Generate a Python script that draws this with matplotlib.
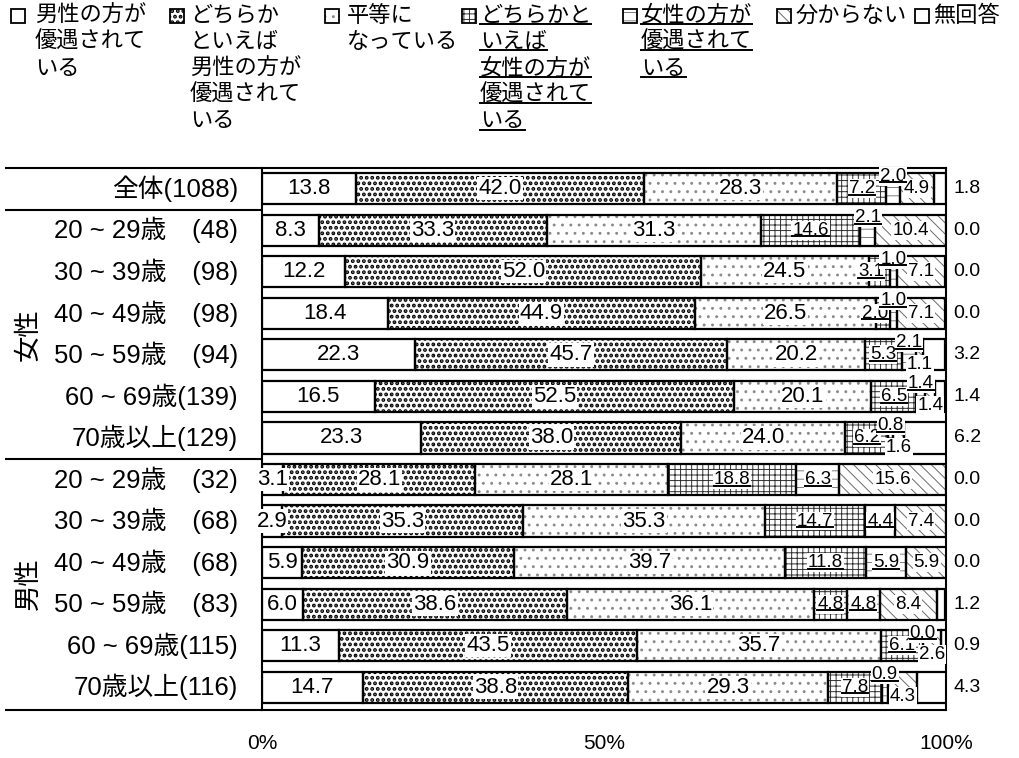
import matplotlib
matplotlib.use("Agg")
import matplotlib.pyplot as plt
from matplotlib.lines import Line2D
from matplotlib.patches import Rectangle
import numpy as np

W, H = 1019, 758
plt.rcParams['font.family'] = ['Liberation Sans', 'Noto Sans CJK JP']

# ---- data -------------------------------------------------------------
categories = [
    '全体(1088)',
    '20 ~ 29歳\u3000(48)', '30 ~ 39歳\u3000(98)', '40 ~ 49歳\u3000(98)',
    '50 ~ 59歳\u3000(94)', '60 ~ 69歳(139)', '70歳以上(129)',
    '20 ~ 29歳\u3000(32)', '30 ~ 39歳\u3000(68)', '40 ~ 49歳\u3000(68)',
    '50 ~ 59歳\u3000(83)', '60 ~ 69歳(115)', '70歳以上(116)',
]
groups = ['女性', '男性']

series_names = [
    '男性の方が\n優遇されて\nいる',
    'どちらか\nといえば\n男性の方が\n優遇されて\nいる',
    '平等に\nなっている',
    'どちらかと\nいえば\n女性の方が\n優遇されて\nいる',
    '女性の方が\n優遇されて\nいる',
    '分からない',
    '無回答',
]

male_favored   = [13.8, 8.3, 12.2, 18.4, 22.3, 16.5, 23.3, 3.1, 2.9, 5.9, 6.0, 11.3, 14.7]
rather_male    = [42.0, 33.3, 52.0, 44.9, 45.7, 52.5, 38.0, 28.1, 35.3, 30.9, 38.6, 43.5, 38.8]
equal          = [28.3, 31.3, 24.5, 26.5, 20.2, 20.1, 24.0, 28.1, 35.3, 39.7, 36.1, 35.7, 29.3]
rather_female  = [7.2, 14.6, 3.1, 2.0, 5.3, 6.5, 6.2, 18.8, 14.7, 11.8, 4.8, 6.1, 7.8]
female_favored = [2.0, 2.1, 1.0, 1.0, 2.1, 1.4, 0.8, 6.3, 4.4, 5.9, 4.8, 0.0, 0.9]
dont_know      = [4.9, 10.4, 7.1, 7.1, 1.1, 1.4, 1.6, 15.6, 7.4, 5.9, 8.4, 2.6, 4.3]
no_answer      = [1.8, 0.0, 0.0, 0.0, 3.2, 1.4, 6.2, 0.0, 0.0, 0.0, 1.2, 0.9, 4.3]

xtick_values = [0, 50, 100]
xtick_labels = ['0%', '50%', '100%']

series = [male_favored, rather_male, equal, rather_female,
          female_favored, dont_know, no_answer]

# ---- styling ----------------------------------------------------------
# (hatch, hatch colour, hatch line width) for each series
styles = [
    (None, None, 0.0),
    ('...', 'black', 1.9),
    ('..', '#8a8a8a', 0.9),
    ('+++', '#303030', 0.7),
    ('--', '#6a6a6a', 0.6),
    ('\\\\\\', '#6a6a6a', 0.7),
    (None, None, 0.0),
]
underlined = {3, 4}
bar_h = 0.75
edge_lw = 1.6

fig = plt.figure(figsize=(W / 100, H / 100), dpi=100)
ax = fig.add_axes([262 / W, 1 - 710 / H, 684 / W, 542 / H])
ax.set_xlim(0, 100)
ax.set_ylim(12.55, -0.5)

ypos = np.arange(len(categories))
vals = np.array(series, dtype=float)
lefts = np.vstack([np.zeros(vals.shape[1]), np.cumsum(vals, axis=0)[:-1]])


def draw_segments(j):
    w = vals[j]
    m = w > 0
    hatch, hcol, hlw = styles[j]
    if hatch:
        with plt.rc_context({'hatch.linewidth': hlw}):
            bars = ax.barh(ypos[m], w[m], left=lefts[j][m], height=bar_h,
                           color='white', edgecolor=hcol, linewidth=0,
                           hatch=hatch, zorder=1)
        for b in bars:
            if hasattr(b, 'set_hatch_linewidth'):
                b.set_hatch_linewidth(hlw)
    else:
        ax.barh(ypos[m], w[m], left=lefts[j][m], height=bar_h,
                color='white', linewidth=0, zorder=1)
    ax.barh(ypos[m], w[m], left=lefts[j][m], height=bar_h, fill=False,
            edgecolor='black', linewidth=edge_lw, zorder=2)


for j in range(len(series)):
    draw_segments(j)

# value labels inside the bars; tiny segments get their label nudged
to_underline = []
label_box = dict(boxstyle='square,pad=0.05', fc='white', ec='none')
for j in range(len(series) - 1):
    for i, v in enumerate(vals[j]):
        cx = lefts[j][i] + v / 2
        dy = 0.0
        if j == 4 and v < 3:
            dy = -0.3
        if j == 5 and v < 4.5:
            dy = 0.22
        if j == 3 and v < 4 and vals[4][i] < 3:
            cx -= 1.2
        fs = 16 if j < 3 else 13.5
        t = ax.text(cx, i + dy, f'{v:.1f}', ha='center', va='center',
                    fontsize=fs, zorder=5, bbox=label_box)
        if j in underlined:
            to_underline.append(t)

# no-answer values outside the frame
ytr = ax.get_yaxis_transform()
for i, v in enumerate(no_answer):
    ax.text(1.031, i, f'{v:.1f}', transform=ytr, ha='center', va='center',
            fontsize=14)

# row labels
for i, c in enumerate(categories):
    ax.text(-0.035, i, c, transform=ytr, ha='right', va='center', fontsize=18.5)

# group labels
ax.text(-0.342, 3.5, groups[0], transform=ytr, ha='center', va='center',
        rotation=90, fontsize=19)
ax.text(-0.342, 9.5, groups[1], transform=ytr, ha='center', va='center',
        rotation=90, fontsize=19)

# frame and separators
for s in ax.spines.values():
    s.set_linewidth(1.5)
    s.set_color('black')
x_left = (5 - 262) / 684
for yy in [-0.5, 0.5, 6.5, 12.55]:
    ax.plot([x_left, 0], [yy, yy], transform=ytr, color='black', lw=1.5,
            clip_on=False, solid_capstyle='butt')

ax.set_yticks([])
ax.set_xticks(xtick_values)
ax.set_xticklabels(xtick_labels, fontsize=15)
ax.tick_params(axis='x', length=0, pad=17)

# legend across the top
marker_x = [11, 170, 325, 462, 623, 777, 915]
text_x = [35, 190, 347, 480, 641, 795, 933]
line_y = [16, 42.5, 69, 95.5, 122]
msz = 14
for k, name in enumerate(series_names):
    hatch, hcol, hlw = styles[k]
    x0, y0 = marker_x[k] / W, 1 - (9 + msz) / H
    if hatch:
        with plt.rc_context({'hatch.linewidth': hlw}):
            p = Rectangle((x0, y0), msz / W, msz / H, transform=fig.transFigure,
                          facecolor='white', edgecolor=hcol, linewidth=0,
                          hatch=hatch)
        if hasattr(p, 'set_hatch_linewidth'):
            p.set_hatch_linewidth(hlw)
        fig.add_artist(p)
    fig.add_artist(Rectangle((x0, y0), msz / W, msz / H,
                             transform=fig.transFigure, fill=False,
                             edgecolor='black', linewidth=1.3))
    for n, line in enumerate(name.split('\n')):
        t = fig.text(text_x[k] / W, 1 - line_y[n] / H, line, ha='left',
                     va='center', fontsize=16)
        if k in underlined:
            to_underline.append(t)

# underline the flagged texts
fig.canvas.draw()
renderer = fig.canvas.get_renderer()
inv = fig.transFigure.inverted()
for t in to_underline:
    bb = t.get_window_extent(renderer)
    yline = bb.y0 + 0.14 * bb.height
    (ax0, ay), (ax1, _) = inv.transform([(bb.x0, yline), (bb.x1, yline)])
    fig.add_artist(Line2D([ax0, ax1], [ay, ay], transform=fig.transFigure,
                          color='black', lw=1.4, zorder=10))

fig.savefig('out.png', dpi=100)
